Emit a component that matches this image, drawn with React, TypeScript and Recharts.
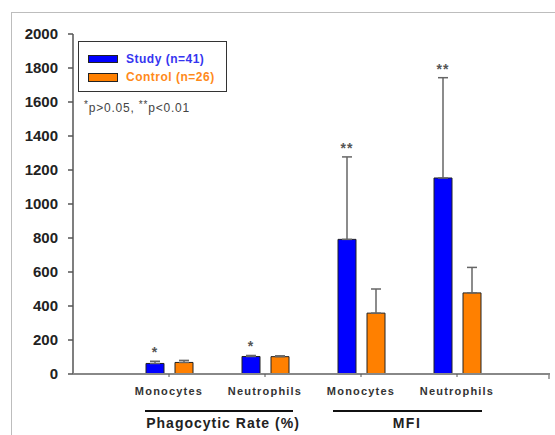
import React from 'react';
import { BarChart, Bar, XAxis, YAxis, ErrorBar, LabelList } from 'recharts';

const categories = ['Monocytes', 'Neutrophils', 'Monocytes', 'Neutrophils'];
const study = [62, 103, 792, 1153];
const studyErr = [13, 6, 485, 590];
const control = [68, 102, 358, 477];
const controlErr = [12, 5, 142, 150];
const significance = ['*', '*', '**', '**'];
const yTicks = [0, 200, 400, 600, 800, 1000, 1200, 1400, 1600, 1800, 2000];

const data = categories.map((name, i) => ({
  name,
  study: study[i],
  control: control[i],
  studyErr: [0, studyErr[i]],
  controlErr: [0, controlErr[i]],
  sig: significance[i],
}));

const FONT = '"Liberation Sans", Arial, sans-serif';

const SigLabel = (props: any) => {
  const vb = props.viewBox || props;
  const { x, y, width, height } = vb;
  const i = props.index;
  const errPx = study[i] ? (height * studyErr[i]) / study[i] : 0;
  const capY = y - errPx;
  return (
    <text x={x + width / 2} y={capY - 4} textAnchor="middle" fontSize={14} fontWeight="bold"
      fontFamily={FONT} fill="#555" letterSpacing={1}>
      {props.value}
    </text>
  );
};

const LegendBox = () => (
  <div style={{
    position: 'absolute', left: 78, top: 41,
    width: 149, height: 51, border: '1.5px solid #333', background: '#fff',
    boxSizing: 'border-box', fontFamily: FONT, fontWeight: 'bold', fontSize: 12, letterSpacing: 0.5,
  }}>
    <div style={{ display: 'flex', alignItems: 'center', marginTop: 11, marginLeft: 9 }}>
      <span style={{ width: 30, height: 8, background: '#0000ff', border: '1px solid #222', boxSizing: 'border-box' }} />
      <span style={{ color: '#3535f0', marginLeft: 8, lineHeight: '12px' }}>Study (n=41)</span>
    </div>
    <div style={{ display: 'flex', alignItems: 'center', marginTop: 6, marginLeft: 9 }}>
      <span style={{ width: 30, height: 9, background: '#ff8000', border: '1px solid #222', boxSizing: 'border-box' }} />
      <span style={{ color: '#ff8a1a', marginLeft: 8, lineHeight: '12px' }}>Control (n=26)</span>
    </div>
  </div>
);

export default function App() {
  return (
    <div style={{ position: 'absolute', left: 0, top: 0, width: 555, height: 435, background: '#fff', overflow: 'hidden' }}>
      <div style={{ position: 'absolute', left: 11, top: 12, right: 0, bottom: 0, borderTop: '1px solid #bdbdbd', borderLeft: '1px solid #bdbdbd' }} />
      <BarChart width={555} height={435} data={data} barSize={18} barGap={11}
        margin={{ top: 34, right: 5, left: 0, bottom: 31 }}>
        <YAxis type="number" domain={[0, 2000]} ticks={yTicks} width={73} interval={0}
          axisLine={{ stroke: '#555', strokeWidth: 1.5 }} tickLine={{ stroke: '#555', strokeWidth: 1.5 }}
          tickSize={5} tickMargin={10}
          tick={{ fontSize: 15, fontWeight: 'bold', fill: '#222', fontFamily: FONT }} />
        <XAxis dataKey="name" height={30} padding={{ left: 48, right: 45 }} interval={0}
          axisLine={{ stroke: '#888', strokeWidth: 2 }} tickLine={{ stroke: '#555' }}
          tickSize={3} tickMargin={10}
          tick={{ fontSize: 11, fontWeight: 'bold', fill: '#333', fontFamily: FONT, letterSpacing: 1.2 }} />
        <Bar dataKey="study" fill="#0000ff" stroke="#222" strokeWidth={1} isAnimationActive={false}>
          <ErrorBar dataKey="studyErr" width={5} stroke="#666" strokeWidth={1.5} direction="y" />
          <LabelList dataKey="sig" content={<SigLabel />} />
        </Bar>
        <Bar dataKey="control" fill="#ff8000" stroke="#222" strokeWidth={1} isAnimationActive={false}>
          <ErrorBar dataKey="controlErr" width={5} stroke="#666" strokeWidth={1.5} direction="y" />
        </Bar>
      </BarChart>
      <LegendBox />
      <svg width={555} height={435} style={{ position: 'absolute', left: 0, top: 0, pointerEvents: 'none' }}>
        <line x1={549} y1={374} x2={549} y2={379} stroke="#888" strokeWidth={1.5} />
        <line x1={145} y1={411} x2={293} y2={411} stroke="#111" strokeWidth={2} />
        <line x1={333} y1={411} x2={482} y2={411} stroke="#111" strokeWidth={2} />
        <text x={223} y={428} textAnchor="middle" fontSize={14} fontWeight="bold" fill="#222"
          fontFamily={FONT} letterSpacing={1}>Phagocytic Rate (%)</text>
        <text x={407} y={428} textAnchor="middle" fontSize={14} fontWeight="bold" fill="#222"
          fontFamily={FONT} letterSpacing={1.5}>MFI</text>
        <text x={84} y={112} fontSize={12} fill="#444" fontFamily={FONT} letterSpacing={0.8}>
          <tspan fontSize={10} dy={-4}>*</tspan>
          <tspan dy={4}>p&gt;0.05, </tspan>
          <tspan fontSize={10} dy={-4}>**</tspan>
          <tspan dy={4}>p&lt;0.01</tspan>
        </text>
      </svg>
    </div>
  );
}
